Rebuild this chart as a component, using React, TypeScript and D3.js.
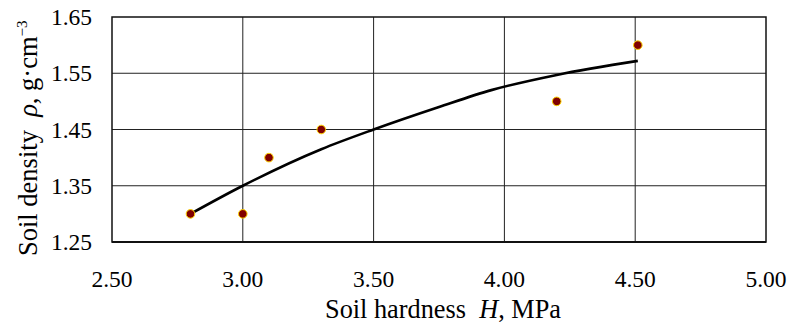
import React from "react";
import * as d3 from "d3";

const hardness = [2.8, 3.0, 3.1, 3.3, 4.2, 4.51];
const density = [1.3, 1.3, 1.4, 1.45, 1.5, 1.6];
const trendX = [2.8, 3.0, 3.3, 3.5, 3.75, 3.95, 4.2, 4.51];
const trendY = [1.3, 1.35, 1.415, 1.45, 1.49, 1.52, 1.547, 1.572];
const xTicks = [2.5, 3.0, 3.5, 4.0, 4.5, 5.0];
const yTicks = [1.25, 1.35, 1.45, 1.55, 1.65];

const W = 790;
const H = 324;
const L = 112, R = 766, T = 17, B = 242;
const font = "Liberation Serif";

export default function App() {
  const x = d3.scaleLinear().domain([2.5, 5]).range([L, R]);
  const y = d3.scaleLinear().domain([1.25, 1.65]).range([B, T]);
  const line = d3
    .line<number>()
    .x((d) => x(d))
    .y((_, i) => y(trendY[i]))
    .curve(d3.curveMonotoneX);
  return (
    <svg
      width={W}
      height={H}
      style={{ position: "absolute", left: 0, top: 0, background: "#fff", fontFamily: font }}
    >
      <rect x={0} y={0} width={W} height={H} fill="#fff" />
      {xTicks.slice(1, -1).map((t) => (
        <line key={"gx" + t} x1={x(t)} x2={x(t)} y1={T} y2={B} stroke="#222" strokeWidth={1} />
      ))}
      {yTicks.slice(1, -1).map((t) => (
        <line key={"gy" + t} x1={L} x2={R} y1={y(t)} y2={y(t)} stroke="#222" strokeWidth={1} />
      ))}
      <rect x={L} y={T} width={R - L} height={B - T} fill="none" stroke="#111" strokeWidth={1.5} />
      <line x1={L} x2={R} y1={B} y2={B} stroke="#111" strokeWidth={2} />
      <path d={line(trendX) || ""} fill="none" stroke="#000" strokeWidth={2.6} />
      {hardness.map((h, i) => (
        <circle key={i} cx={x(h)} cy={y(density[i])} r={4.3} fill="#800000" stroke="#ffd700" strokeWidth={1} />
      ))}
      {xTicks.map((t) => (
        <text key={"tx" + t} x={x(t)} y={287} textAnchor="middle" fontSize={23.5} fill="#000">
          {t.toFixed(2)}
        </text>
      ))}
      {yTicks.map((t) => (
        <text key={"ty" + t} x={92} y={y(t) + 8} textAnchor="end" fontSize={23.5} fill="#000">
          {t.toFixed(2)}
        </text>
      ))}
      <text x={325} y={318} textAnchor="start" fontSize={26.3} fill="#000">
        Soil hardness{"\u00a0\u00a0"}
        <tspan fontStyle="italic">H</tspan>, MPa
      </text>
      <text
        transform={`translate(37,256) rotate(-90)`}
        textAnchor="start"
        fontSize={26.5}
        fill="#000"
      >
        Soil density{"\u00a0\u00a0"}
        <tspan fontStyle="italic">ρ</tspan>, g·cm
        <tspan dy={-10} fontSize={15}>−3</tspan>
      </text>
    </svg>
  );
}
